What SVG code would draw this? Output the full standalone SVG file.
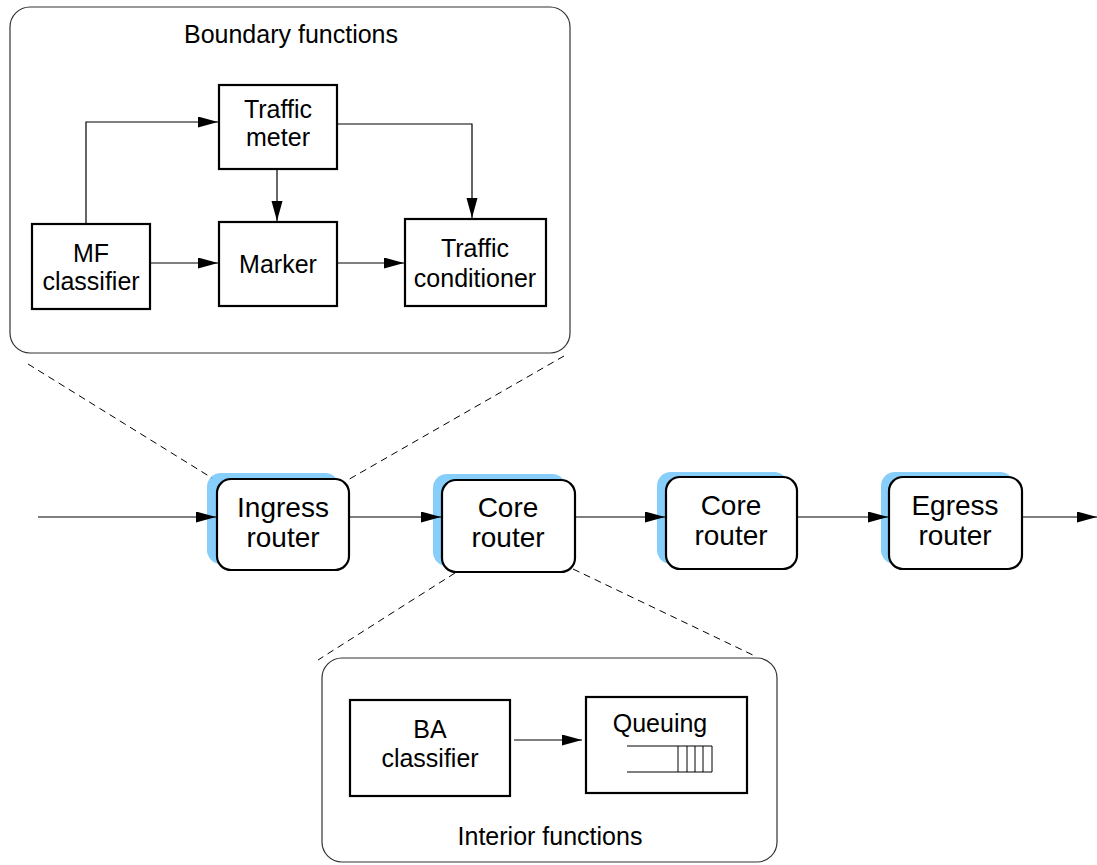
<svg xmlns="http://www.w3.org/2000/svg" width="1097" height="865" viewBox="0 0 1097 865">
<style>
text{font-family:"Liberation Sans",Arial,sans-serif;fill:#000;text-anchor:middle}
.t{font-size:25px}
.r{font-size:28px}
.box{fill:#fff;stroke:#000;stroke-width:2.2}
.panel{fill:#fff;stroke:#333;stroke-width:1.2}
.rt{fill:#fff;stroke:#000;stroke-width:2.2}
.sh{fill:#87cefa;stroke:none}
.c{fill:none;stroke:#000;stroke-width:1.2}
.d{fill:none;stroke:#000;stroke-width:1;stroke-dasharray:7,5}
.q{fill:none;stroke:#000;stroke-width:1}
</style>
<defs>
<marker id="ah" markerUnits="userSpaceOnUse" markerWidth="21" markerHeight="12" refX="20" refY="5.5" orient="auto">
<path d="M0,0 L20,5.5 L0,11 z" fill="#000"/>
</marker>
</defs>
<g id="boundary-panel">
<rect class="panel" x="10" y="7" width="560" height="346" rx="20" ry="20"/>
<text class="t" x="291" y="43">Boundary functions</text>
</g>
<g id="traffic-meter">
<rect class="box" x="219" y="85" width="118" height="84"/>
<text class="t" x="278" y="118">Traffic</text>
<text class="t" x="278" y="146">meter</text>
</g>
<g id="mf-classifier">
<rect class="box" x="32" y="224" width="118" height="85"/>
<text class="t" x="91" y="262">MF</text>
<text class="t" x="91" y="290">classifier</text>
</g>
<g id="marker">
<rect class="box" x="219" y="222" width="118" height="84"/>
<text class="t" x="278" y="273">Marker</text>
</g>
<g id="traffic-conditioner">
<rect class="box" x="405" y="219" width="141" height="87"/>
<text class="t" x="475" y="257">Traffic</text>
<text class="t" x="475" y="287">conditioner</text>
</g>
<g id="interior-panel">
<rect class="panel" x="322" y="658" width="455" height="204" rx="20" ry="20"/>
<text class="t" x="550" y="845">Interior functions</text>
</g>
<g id="ba-classifier">
<rect class="box" x="350" y="700" width="160" height="96"/>
<text class="t" x="430" y="738">BA</text>
<text class="t" x="430" y="767">classifier</text>
</g>
<g id="queuing">
<rect class="box" x="586" y="697" width="161" height="96"/>
<text class="t" x="660" y="732">Queuing</text>
<path class="q" d="M627,746 H712 V772 H627 M678,746 V772 M687,746 V772 M695,746 V772 M703,746 V772"/>
</g>
<g id="ingress-router">
<rect class="sh" x="207" y="473" width="132" height="91" rx="14" ry="14"/>
<rect class="rt" x="217" y="479" width="132" height="91" rx="14" ry="14"/>
<text class="r" x="283" y="517">Ingress</text>
<text class="r" x="283" y="547">router</text>
</g>
<g id="core-router-1">
<rect class="sh" x="433" y="474" width="133" height="92" rx="14" ry="14"/>
<rect class="rt" x="442" y="480" width="133" height="92" rx="14" ry="14"/>
<text class="r" x="508" y="517">Core</text>
<text class="r" x="508" y="547">router</text>
</g>
<g id="core-router-2">
<rect class="sh" x="657" y="472" width="131" height="92" rx="14" ry="14"/>
<rect class="rt" x="666" y="477" width="131" height="92" rx="14" ry="14"/>
<text class="r" x="731" y="515">Core</text>
<text class="r" x="731" y="545">router</text>
</g>
<g id="egress-router">
<rect class="sh" x="881" y="472" width="133" height="92" rx="14" ry="14"/>
<rect class="rt" x="889" y="477" width="133" height="92" rx="14" ry="14"/>
<text class="r" x="955" y="515">Egress</text>
<text class="r" x="955" y="545">router</text>
</g>
<g id="connectors">
<path class="c" d="M86,224 V122 H218" marker-end="url(#ah)"/>
<path class="c" d="M150,263 H218" marker-end="url(#ah)"/>
<path class="c" d="M277,169 V221" marker-end="url(#ah)"/>
<path class="c" d="M338,263 H404" marker-end="url(#ah)"/>
<path class="c" d="M338,124 H472 V218" marker-end="url(#ah)"/>
<path class="c" d="M514,740 H582" marker-end="url(#ah)"/>
<path class="c" d="M38,517 H216" marker-end="url(#ah)"/>
<path class="c" d="M350,517 H441" marker-end="url(#ah)"/>
<path class="c" d="M576,517 H665" marker-end="url(#ah)"/>
<path class="c" d="M798,517 H888" marker-end="url(#ah)"/>
<path class="c" d="M1022,517 H1097" marker-end="url(#ah)"/>
<path class="d" d="M28,364 L212,478"/>
<path class="d" d="M564,356 L346,481"/>
<path class="d" d="M455,573 L318,660"/>
<path class="d" d="M573,569 L757,657"/>
</g>
</svg>
